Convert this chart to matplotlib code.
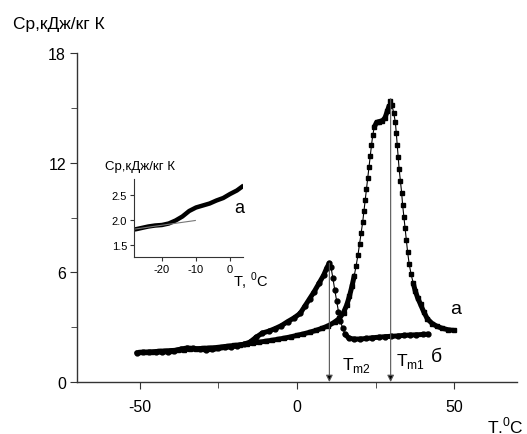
import matplotlib
matplotlib.use("Agg")
import matplotlib.pyplot as plt
from matplotlib.ticker import MultipleLocator

plt.rcParams["font.family"] = ["Liberation Sans", "DejaVu Sans"]
plt.rcParams["mathtext.fontset"] = "custom"
plt.rcParams["mathtext.rm"] = "Liberation Sans"
plt.rcParams["axes.unicode_minus"] = False

W, H = 527, 435
dark = "#333333"

# curve "a" (squares)
t_a = [-50, -48, -46, -44, -42, -40, -38, -36, -34, -32, -30, -28, -26, -24,
       -22, -20, -18, -16, -14, -12, -10, -8, -6, -4, -2, 0, 2, 4, 6, 8, 10,
       12, 13.5, 14.8, 15.8, 16.7, 17.5, 18.2, 18.8, 19.4, 19.9, 20.4, 20.9,
       21.3, 21.7, 22.1, 22.5, 22.9, 23.3, 23.7, 24.1, 24.6, 25.3, 26.2, 27.2,
       28.0, 28.7, 29.3, 29.7, 30.2, 30.8, 31.3, 31.6, 31.9, 32.2, 32.5, 32.9,
       33.3, 33.6, 34.0, 34.4, 34.8, 35.2, 35.7, 36.3, 37.0, 37.6, 38.4, 39.3,
       40.3, 41.5, 43.0, 44.5, 46.0, 48.0, 50.0]
cp_a = [1.62, 1.63, 1.65, 1.68, 1.70, 1.72, 1.74, 1.77, 1.80, 1.82, 1.84, 1.86,
        1.88, 1.92, 1.96, 2.00, 2.04, 2.08, 2.13, 2.18, 2.23, 2.28, 2.34, 2.40,
        2.47, 2.55, 2.63, 2.72, 2.82, 2.94, 3.08, 3.28, 3.48, 3.80, 4.20, 4.70,
        5.25, 5.80, 6.35, 6.95, 7.55, 8.15, 8.75, 9.35, 9.95, 10.55, 11.15,
        11.75, 12.35, 12.95, 13.50, 13.95, 14.20, 14.25, 14.30, 14.45, 14.80,
        15.10, 15.35, 15.15, 14.70, 14.20, 13.60, 12.95, 12.30, 11.65, 11.00,
        10.35, 9.70, 9.05, 8.40, 7.75, 7.10, 6.45, 5.90, 5.40, 5.00, 4.60,
        4.25, 3.85, 3.45, 3.20, 3.05, 2.95, 2.86, 2.82]
# index ranges where the recorded points are dense (drawn as solid thick line)
dense_a = [(0, 38), (51, 58), (75, 86)]

# curve "б" (circles)
t_b = [-51, -49, -47, -45, -43, -41, -39, -37, -35, -33, -31, -29, -27, -25,
       -23, -21, -19, -17, -15, -13, -11, -9, -7, -5, -3, -1, 1, 2.5, 4, 5.5,
       7, 8.5, 9.5, 10.3, 10.8, 11.4, 12.0, 12.6, 13.2, 13.8, 14.5, 15.3, 16.5,
       18, 20, 22, 24, 26, 28, 30, 32, 34, 36, 38, 40, 41.8]
cp_b = [1.60, 1.62, 1.62, 1.63, 1.64, 1.66, 1.72, 1.80, 1.86, 1.84, 1.78, 1.76,
        1.78, 1.84, 1.90, 1.92, 1.98, 2.06, 2.18, 2.45, 2.68, 2.78, 2.92, 3.08,
        3.30, 3.50, 3.75, 4.15, 4.55, 4.95, 5.40, 5.85, 6.25, 6.50, 6.30, 5.70,
        5.05, 4.45, 3.85, 3.35, 2.95, 2.62, 2.40, 2.35, 2.35, 2.38, 2.42, 2.45,
        2.48, 2.50, 2.52, 2.55, 2.57, 2.58, 2.60, 2.62]
dense_b = [(0, 34), (41, 56)]

# inset: low-temperature part of curve "a"
t_in = [-28, -26, -24, -22, -20, -18, -16, -14, -12, -10, -8, -6, -4, -2, 0, 2, 4]
cp_in = [1.81, 1.84, 1.87, 1.89, 1.90, 1.93, 1.99, 2.07, 2.18, 2.25, 2.29,
         2.33, 2.39, 2.44, 2.52, 2.59, 2.69]
tangent_t = [-27.8, -10.2]
tangent_cp = [1.82, 1.99]

tm1, tm2 = 29.8, 10.3

fig = plt.figure(figsize=(W / 100, H / 100), dpi=100)
ax = fig.add_axes([77 / W, 1 - 383 / H, 440 / W, 329 / H])

ax.plot(t_b, cp_b, "-", color="k", lw=0.8, marker="o", ms=3.5, mec="k", mfc="k")
ax.plot(t_a, cp_a, "-", color="k", lw=0.8, marker="s", ms=3.2, mec="k", mfc="k")
for t, cp, parts in [(t_a, cp_a, dense_a), (t_b, cp_b, dense_b)]:
    for i0, i1 in parts:
        ax.plot(t[i0:i1], cp[i0:i1], "-", color="k", lw=3.6,
                solid_capstyle="round", solid_joinstyle="round")

for tm, top in [(tm2, 6.5), (tm1, 15.5)]:
    ax.annotate("", xy=(tm, 0), xytext=(tm, top),
                arrowprops=dict(arrowstyle="-|>", color="#555555", lw=0.8,
                                mutation_scale=10, shrinkA=0, shrinkB=0,
                                fc="k"))

ax.set_xlim(-70, 70)
ax.set_ylim(0, 18)
ax.xaxis.set_major_locator(MultipleLocator(50))
ax.xaxis.set_minor_locator(MultipleLocator(25))
ax.yaxis.set_major_locator(MultipleLocator(6))
ax.yaxis.set_minor_locator(MultipleLocator(3))
for s in ["top", "right"]:
    ax.spines[s].set_visible(False)
for s in ["left", "bottom"]:
    ax.spines[s].set_color(dark)
    ax.spines[s].set_linewidth(1.0)
ax.tick_params(which="both", direction="out", colors=dark, labelcolor="k",
               labelsize=11.5)
ax.tick_params(which="major", length=5)
ax.tick_params(which="minor", length=4)
ax.tick_params(axis="x", pad=7)
ax.tick_params(axis="y", pad=3)

def ftext(x, y, s, **kw):
    fig.text(x / W, 1 - y / H, s, **kw)

ftext(13, 25, "Cp,кДж/кг К", fontsize=12.5, va="center", ha="left")
ftext(487, 426, r"T.$^{\rm 0}$C", fontsize=12.5, va="center", ha="left")
ftext(456, 310, "a", fontsize=14, va="center", ha="center")
ftext(436, 358, "б", fontsize=14, va="center", ha="center")
ftext(342, 366, r"T$_{\rm m2}$", fontsize=12.5, va="center", ha="left")
ftext(396, 362, r"T$_{\rm m1}$", fontsize=12.5, va="center", ha="left")

# inset
ins = fig.add_axes([134 / W, 1 - 258 / H, 109 / W, 78 / H])
ins.plot(t_in, cp_in, "-", color="k", lw=3.2, solid_capstyle="butt")
ins.plot(tangent_t, tangent_cp, "-", color="#777777", lw=0.8)
ins.set_xlim(-28.2, 3.8)
ins.set_ylim(1.26, 2.82)
ins.set_xticks([-20, -10, 0])
ins.set_xticklabels(["-20", "-10", "0"])
ins.set_yticks([1.5, 2.0, 2.5])
ins.set_yticklabels(["1.5", "2.0", "2.5"])
for s in ["top", "right"]:
    ins.spines[s].set_visible(False)
for s in ["left", "bottom"]:
    ins.spines[s].set_color(dark)
    ins.spines[s].set_linewidth(0.8)
ins.tick_params(which="both", direction="out", colors=dark, labelcolor="k",
                labelsize=8, length=3, pad=2)

ftext(105, 167, "Cp,кДж/кг К", fontsize=9.5, va="center", ha="left")
ftext(239, 209, "a", fontsize=13, va="center", ha="center")
ftext(233, 281, r"T, $^{\rm 0}$C", fontsize=10.5, va="center", ha="left")

fig.savefig("out.png", dpi=100)
